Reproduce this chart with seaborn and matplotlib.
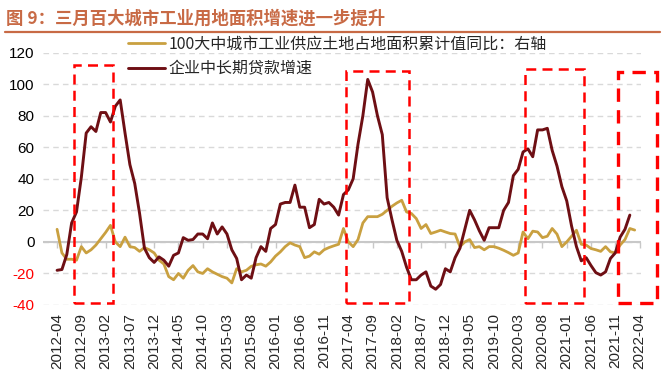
import numpy as np
import pandas as pd
import seaborn as sns
import matplotlib.pyplot as plt
from matplotlib.lines import Line2D
from matplotlib.patches import Rectangle

sns.set_style("white")
plt.rcParams['font.family'] = ['Liberation Sans', 'Noto Sans CJK SC']
plt.rcParams['axes.unicode_minus'] = False

# monthly axis, 2012-04 .. 2022-04
months = pd.date_range("2012-04-01", "2022-04-01", freq="MS").strftime("%Y-%m").tolist()

# 100大中城市工业供应土地占地面积累计值同比 (2012-04 .. 2022-03)
land_yoy = [8, -7, -11, -11, -11.6, -3, -7, -5, -2, 2,
            6, 10.5, 0, -3, 3, -3, -3.6, -6, -3.6, -5,
            -7, -11.6, -14, -22, -24, -20, -23, -18, -15, -19,
            -20, -17, -19, -20.5, -22, -23, -26, -17, -19, -18,
            -15.5, -14.5, -14, -15.4, -12.7, -9, -6.3, -3, -0.6, -2,
            -3, -10, -9, -6.3, -7.8, -5, -3.6, -2.5, -1.5, 8.5,
            0, -3, 1.5, 12, 16, 16, 16, 17.5, 20, 22.6,
            24.7, 26.4, 19, 18, 14.8, 8.5, 11, 5.3, 6.3, 7.4,
            6.3, 5.3, 5, -3, 0, 1.5, -3.6, -3, -5, -3,
            -3, -4, -5.3, -6.8, -8.5, -7, 6.3, 2, 6.8, 6.3,
            2.7, 3.6, 8.5, 4.9, -3, 0, 3.6, 7.4, -1.5, -2,
            -4.2, -5, -6, -3, -6.3, -7, -2, 1.5, 8.5, 7.5]

# 企业中长期贷款增速 (2012-04 .. 2022-02)
loan_growth = [-18, -17.5, -8, 12, 19, 41, 69, 73, 70, 82,
               82, 76, 86, 90, 69, 49, 37, 18, -4, -10,
               -13, -9.5, -11.6, -15.4, -8.5, -7, 2.7, 1, 1.5, 5,
               5, 2, 12, 5, 9.5, 5, -5, -10.5, -24, -21,
               -23, -10, -3, -6, 8.5, 11, 24, 25, 25, 36,
               22, 22, 9, 11, 27, 24, 25, 22, 17, 30,
               33, 40, 62, 80, 103, 95, 80, 68, 28, 14,
               1, -6, -16, -24, -24, -21, -19, -28, -30, -27,
               -17, -19, -10, -4, 8, 20, 14, 7, 1, 9,
               9, 9, 20, 25, 42, 46, 57, 59, 54, 71,
               71, 72, 58, 48, 35, 26, 10, -3, -12, -10,
               -15, -19.5, -21, -19, -10.5, -7, 3, 8, 17]

label_land = "100大中城市工业供应土地占地面积累计值同比：右轴"
label_loan = "企业中长期贷款增速"
title = "图 9：三月百大城市工业用地面积增速进一步提升"

# highlighted periods (start month, end month, top)
boxes = [("2012-08", "2013-03", 112), ("2017-04", "2018-04", 108.5),
         ("2020-05", "2021-04", 109.5), ("2021-12", "2022-07", 107.5)]

gold = "#C9A040"
maroon = "#6E0F14"
title_c = "#C86A45"

df_land = pd.DataFrame({"i": np.arange(len(land_yoy)), "v": land_yoy})
df_loan = pd.DataFrame({"i": np.arange(len(loan_growth)), "v": loan_growth})

fig = plt.figure(figsize=(6.65, 3.77), dpi=100)
ax = fig.add_axes([43 / 665, 1 - 305 / 377, (641 - 43) / 665, (305 - 52.6) / 377])

sns.lineplot(data=df_land, x="i", y="v", color=gold, lw=2, ax=ax, label=label_land, zorder=3)
sns.lineplot(data=df_loan, x="i", y="v", color=maroon, lw=2.1, ax=ax, label=label_loan, zorder=4)

ax.set_xlim(-2.9, 120.3)
ax.set_ylim(-40, 120)
ax.set_xlabel("")
ax.set_ylabel("")
for s in ax.spines.values():
    s.set_visible(False)

ax.set_yticks(np.arange(-40, 121, 20))
ax.yaxis.grid(True, color="#D9D9D9", lw=1, dashes=(4, 3))
ax.set_axisbelow(True)
ax.tick_params(axis="y", length=0, pad=6, labelsize=11)
for t, v in zip(ax.get_yticklabels(), ax.get_yticks()):
    t.set_color("red" if v < 0 else "black")

tick_idx = list(range(0, len(months), 5))
ax.set_xticks(tick_idx)
ax.set_xticklabels([months[k] for k in tick_idx], rotation=90, fontsize=11)
ax.tick_params(axis="x", length=0, pad=6)

# zero line with its own ticks
ax.axhline(0, color="#C8C8C8", lw=1.5, zorder=2)
sec = ax.secondary_xaxis(0.25)
sec.set_xticks(tick_idx)
sec.set_xticklabels([])
sec.tick_params(direction="out", length=4, color="#C8C8C8", width=1)
sec.spines["bottom"].set_visible(False)
sec.set_zorder(1)

# red dashed boxes
for k, (a, b, top) in enumerate(boxes):
    x0 = months.index(a) - 0.5 if a in months else 0
    x1 = months.index(b) + 0.5 if b in months else len(months) + 2.5
    lw = 2.4 if k == 3 else 1.8
    ax.add_patch(Rectangle((x0, -39), x1 - x0, top + 39, fill=False, ec="red",
                           ls=(0, (4, 2.5)), lw=lw, clip_on=False, zorder=5))

ax.legend(loc="upper left", bbox_to_anchor=(128 / 665, 1 - 36 / 377),
          bbox_transform=fig.transFigure, frameon=False, fontsize=11.5,
          handlelength=2.3, handletextpad=0.25, labelspacing=0.45,
          borderpad=0, borderaxespad=0, prop={"family": ["Noto Sans CJK SC"], "size": 11.5})

fig.text(6 / 665, 1 - 19 / 377, title, va="center", ha="left", color=title_c,
         fontsize=12.5, fontweight="bold", family=["Noto Sans CJK SC"])
fig.add_artist(Line2D([5 / 665, 660 / 665], [1 - 32 / 377] * 2, color=title_c, lw=1.6))

fig.savefig("out.png", dpi=100)
